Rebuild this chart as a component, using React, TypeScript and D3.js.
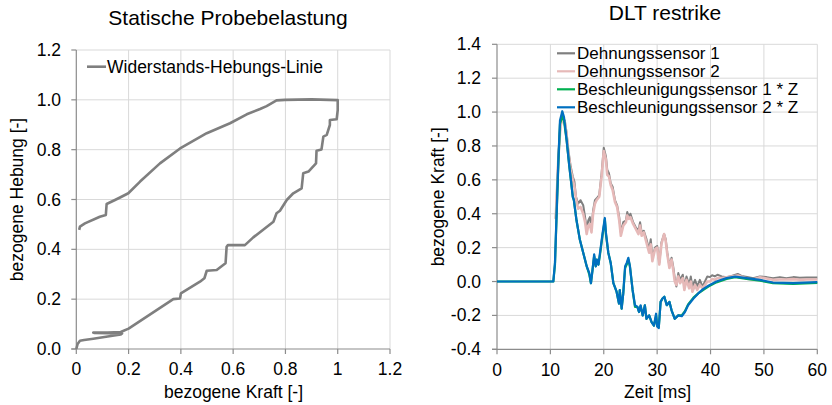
import React from "react";
import * as d3 from "d3";

// Statische Probebelastung: Widerstands-Hebungs-Linie
const kraft = [
  0, 0.005, 0.014, 0.03, 0.065, 0.12, 0.17, 0.175, 0.07, 0.065,
  0.12, 0.17, 0.2, 0.371, 0.397, 0.4, 0.473, 0.49, 0.499, 0.537,
  0.562, 0.571, 0.575, 0.58, 0.645, 0.677, 0.754, 0.766, 0.779, 0.805,
  0.83, 0.862, 0.868, 0.888, 0.917, 0.919, 0.938, 0.945, 0.958, 0.97,
  0.97, 0.996, 1.0, 1.0, 0.9, 0.798, 0.766, 0.728, 0.703, 0.652,
  0.588, 0.499, 0.397, 0.32, 0.244, 0.199, 0.173, 0.148, 0.122, 0.116,
  0.113, 0.09, 0.033, 0.014, 0.011,
];
const hebung = [
  0, 0.02, 0.033, 0.036, 0.041, 0.05, 0.058, 0.062, 0.064, 0.066,
  0.066, 0.068, 0.082, 0.2, 0.203, 0.223, 0.27, 0.284, 0.314, 0.317,
  0.337, 0.344, 0.41, 0.417, 0.417, 0.448, 0.511, 0.545, 0.555, 0.598,
  0.625, 0.645, 0.705, 0.712, 0.745, 0.796, 0.801, 0.852, 0.859, 0.899,
  0.919, 0.922, 0.959, 0.999, 1.002, 1.0, 0.998, 0.975, 0.963, 0.942,
  0.906, 0.866, 0.805, 0.745, 0.672, 0.625, 0.611, 0.598, 0.585, 0.582,
  0.538, 0.531, 0.504, 0.491, 0.478,
];

// DLT restrike: Dehnungssensoren
const zeitDehnung = [
  11.0, 11.5, 11.9, 12.3, 12.7, 13.05, 13.35, 13.8, 14.2, 14.5,
  14.8, 15.2, 15.65, 16.15, 16.5, 16.8, 17.1, 17.4, 17.7, 18.0,
  18.35, 18.65, 19.15, 19.6, 20.0, 20.4, 20.65, 20.97, 21.3, 21.66,
  22.1, 22.5, 22.9, 23.2, 23.65, 24.15, 24.4, 24.7, 25.0, 25.5,
  26.0, 26.5, 26.8, 27.1, 27.5, 28.0, 28.5, 28.8, 29.1, 29.6,
  30.0, 30.4, 30.8, 31.3, 31.6, 31.9, 32.3, 32.7, 33.0, 33.3,
  33.6, 33.96, 34.3, 34.8, 35.1, 35.5, 36.0, 36.3, 36.6, 37.1,
  37.5, 38.0, 38.5, 38.95, 39.4, 39.9, 40.3, 40.8, 41.3, 42.1,
  43.0, 43.95, 45.1, 45.8, 47.1, 48.0, 49.25, 50.5, 51.7, 53.0,
  54.2, 55.5, 56.7, 58.0, 60,
];
const dehnung1 = [
  0.37, 0.74, 0.93, 0.97, 0.95, 0.875, 0.78, 0.68, 0.62, 0.59,
  0.5, 0.46, 0.48, 0.45, 0.38, 0.31, 0.36, 0.38, 0.31, 0.42,
  0.48, 0.49, 0.51, 0.64, 0.79, 0.74, 0.66, 0.64, 0.58, 0.56,
  0.48, 0.45, 0.38, 0.29, 0.35, 0.36, 0.41, 0.38, 0.4, 0.35,
  0.32, 0.3, 0.35, 0.29, 0.3, 0.25, 0.19, 0.25, 0.14, 0.2,
  0.21, 0.11, 0.23, 0.28, 0.25, 0.17, 0.09, 0.14, 0.09, 0.02,
  -0.03, 0.05, 0.01, 0.04, -0.03, 0.03, -0.02, 0.03, -0.03, 0.01,
  -0.03, 0.01, -0.03, 0.0, 0.03, 0.026, 0.037, 0.03, 0.04, 0.03,
  0.026, 0.033, 0.045, 0.033, 0.026, 0.02, 0.03, 0.026, 0.02, 0.026,
  0.02, 0.026, 0.022, 0.024, 0.024,
];
const dehnung2 = [
  0.37, 0.73, 0.92, 0.96, 0.94, 0.86, 0.76, 0.66, 0.6, 0.56,
  0.49, 0.43, 0.44, 0.4, 0.35, 0.28, 0.33, 0.34, 0.29, 0.4,
  0.46, 0.48, 0.5, 0.62, 0.77, 0.72, 0.63, 0.62, 0.57, 0.54,
  0.47, 0.44, 0.36, 0.27, 0.33, 0.35, 0.39, 0.37, 0.38, 0.34,
  0.31, 0.28, 0.33, 0.27, 0.29, 0.23, 0.17, 0.22, 0.12, 0.19,
  0.2, 0.1, 0.22, 0.28, 0.24, 0.16, 0.08, 0.13, 0.07, 0.0,
  -0.02, 0.03, -0.01, 0.02, -0.05, 0.01, -0.04, 0.0, -0.06, -0.02,
  -0.05, -0.02, -0.04, -0.02, 0.0, 0.0, 0.015, 0.01, 0.02, 0.02,
  0.025, 0.03, 0.035, 0.028, 0.015, 0.012, 0.025, 0.018, 0.01, 0.012,
  0.012, 0.014, 0.01, 0.012, 0.012,
];

// DLT restrike: Beschleunigungssensoren
const zeitBeschl = [
  0, 10.55, 10.86, 11.5, 11.8, 12.23, 12.55, 13.05, 13.55, 14.2,
  14.4, 14.9, 15.5, 16.15, 16.8, 17.3, 17.6, 17.9, 18.2, 18.5,
  18.7, 19.0, 19.3, 19.8, 20.2, 20.4, 20.85, 21.3, 21.8, 22.4,
  22.85, 23.0, 23.35, 23.65, 24.0, 24.3, 24.6, 24.9, 25.4, 25.85,
  26.3, 26.6, 26.9, 27.3, 27.7, 28.0, 28.5, 28.96, 29.4, 29.8,
  30.0, 30.3, 30.65, 31.0, 31.35, 31.8, 32.3, 32.7, 33.3, 33.96,
  34.6, 35.2, 35.8, 36.8, 37.7, 38.6, 39.6, 41.1, 43.0, 44.6,
  46.75, 49.25, 51.7, 55.5, 60,
];
const beschl1 = [
  0, 0, 0.1, 0.7, 0.93, 0.975, 0.95, 0.83, 0.68, 0.5,
  0.48, 0.36, 0.25, 0.17, 0.09, 0.04, -0.01, 0.07, 0.15, 0.09,
  0.13, 0.1, 0.16, 0.28, 0.365, 0.28, 0.17, 0.11, -0.01, -0.06,
  -0.13, -0.05, -0.16, -0.07, 0.08, 0.1, 0.13, 0.09, -0.05, -0.15,
  -0.15, -0.18, -0.145, -0.2, -0.14, -0.22, -0.2, -0.24, -0.26, -0.2,
  -0.26, -0.27, -0.12, -0.1, -0.09, -0.14, -0.12, -0.17, -0.22, -0.2,
  -0.2, -0.175, -0.135, -0.095, -0.07, -0.05, -0.03, -0.005, 0.015, 0.025,
  0.015, 0.005, -0.01, -0.014, -0.008,
];
const beschl2 = [
  0, 0, 0.11, 0.72, 0.95, 1.005, 0.97, 0.835, 0.68, 0.5,
  0.48, 0.36, 0.25, 0.17, 0.09, 0.05, -0.01, 0.07, 0.16, 0.09,
  0.13, 0.1, 0.17, 0.29, 0.375, 0.29, 0.17, 0.11, -0.01, -0.06,
  -0.13, -0.05, -0.16, -0.07, 0.09, 0.11, 0.14, 0.09, -0.05, -0.14,
  -0.15, -0.18, -0.14, -0.2, -0.14, -0.22, -0.2, -0.24, -0.26, -0.19,
  -0.265, -0.275, -0.12, -0.1, -0.09, -0.14, -0.12, -0.17, -0.22, -0.2,
  -0.205, -0.18, -0.14, -0.1, -0.07, -0.045, -0.025, 0, 0.02, 0.029,
  0.02, 0.01, -0.006, -0.01, -0.004,
];

const serien = [
  { name: "Dehnungssensor 1", color: "#7f7f7f", width: 2, t: zeitDehnung, v: dehnung1 },
  { name: "Dehnungssensor 2", color: "#e6b9b8", width: 2.6, t: zeitDehnung, v: dehnung2 },
  { name: "Beschleunigungssensor 1 * Z", color: "#00b050", width: 2.2, t: zeitBeschl, v: beschl1 },
  { name: "Beschleunigungssensor 2 * Z", color: "#0070c0", width: 2.2, t: zeitBeschl, v: beschl2 },
];

const FONT = "'Liberation Sans', Arial, sans-serif";
const GRID = "#d9d9d9";
const AXIS = "#8c8c8c";

export default function App() {
  // linkes Diagramm
  const xL = d3.scaleLinear().domain([0, 1.2]).range([76.3, 390]);
  const yL = d3.scaleLinear().domain([0, 1.2]).range([349, 50]);
  const xTicksL = d3.range(0, 7).map((i) => i * 0.2);
  const yTicksL = d3.range(0, 7).map((i) => i * 0.2);

  // rechtes Diagramm
  const xR = d3.scaleLinear().domain([0, 60]).range([497, 817.3]);
  const yR = d3.scaleLinear().domain([-0.4, 1.4]).range([349.3, 44.3]);
  const xTicksR = d3.range(0, 61, 10);
  const yTicksR = d3.range(0, 10).map((i) => -0.4 + i * 0.2);

  const lineL = d3
    .line<number>()
    .x((_, i) => xL(kraft[i]))
    .y((_, i) => yL(hebung[i]));

  const fmtL = (d: number) => String(+d.toFixed(1));

  return (
    <svg
      width={832}
      height={405}
      style={{ position: "absolute", left: 0, top: 0, background: "#fff" }}
      fontFamily={FONT}
    >
      {/* Statische Probebelastung */}
      <text x={228} y={25} fontSize={21} textAnchor="middle" fill="#000">
        Statische Probebelastung
      </text>
      <g>
        {xTicksL.slice(1).map((d) => (
          <line key={"gx" + d} x1={xL(d)} x2={xL(d)} y1={yL(0)} y2={yL(1.2)} stroke={GRID} strokeWidth={1} />
        ))}
        {yTicksL.slice(1).map((d) => (
          <line key={"gy" + d} x1={xL(0)} x2={xL(1.2)} y1={yL(d)} y2={yL(d)} stroke={GRID} strokeWidth={1} />
        ))}
        <line x1={xL(0)} x2={xL(0)} y1={yL(0)} y2={yL(1.2)} stroke={AXIS} strokeWidth={1.2} />
        <line x1={xL(0) - 5} x2={xL(1.2)} y1={yL(0)} y2={yL(0)} stroke={AXIS} strokeWidth={1.2} />
        {yTicksL.map((d) => (
          <g key={"ty" + d}>
            <line x1={xL(0) - 5} x2={xL(0)} y1={yL(d)} y2={yL(d)} stroke={AXIS} strokeWidth={1.2} />
            <text x={61} y={yL(d) + 6} fontSize={17.5} textAnchor="end" fill="#000">
              {d.toFixed(1)}
            </text>
          </g>
        ))}
        {xTicksL.map((d) => (
          <g key={"tx" + d}>
            <line x1={xL(d)} x2={xL(d)} y1={yL(0)} y2={yL(0) + 5} stroke={AXIS} strokeWidth={1.2} />
            <text x={xL(d)} y={375} fontSize={17.5} textAnchor="middle" fill="#000">
              {fmtL(d)}
            </text>
          </g>
        ))}
        <text x={233.5} y={398} fontSize={17.5} textAnchor="middle" fill="#000">
          bezogene Kraft [-]
        </text>
        <text
          transform={`translate(23, ${yL(0.6)}) rotate(-90)`}
          fontSize={17.5}
          textAnchor="middle"
          fill="#000"
        >
          bezogene Hebung [-]
        </text>
        <path d={lineL(kraft) || ""} fill="none" stroke="#7f7f7f" strokeWidth={2.6} strokeLinejoin="round" />
        <line x1={87} x2={106} y1={66.7} y2={66.7} stroke="#7f7f7f" strokeWidth={2.6} />
        <text x={107} y={73} fontSize={17.5} fill="#000">
          Widerstands-Hebungs-Linie
        </text>
      </g>

      {/* DLT restrike */}
      <text x={665} y={20} fontSize={21} textAnchor="middle" fill="#000">
        DLT restrike
      </text>
      <g>
        {xTicksR.slice(1).map((d) => (
          <line key={"rgx" + d} x1={xR(d)} x2={xR(d)} y1={yR(-0.4)} y2={yR(1.4)} stroke={GRID} strokeWidth={1} />
        ))}
        {yTicksR.slice(1).map((d) => (
          <line key={"rgy" + d} x1={xR(0)} x2={xR(60)} y1={yR(d)} y2={yR(d)} stroke={GRID} strokeWidth={1} />
        ))}
        <line x1={xR(0)} x2={xR(0)} y1={yR(-0.4)} y2={yR(1.4)} stroke={AXIS} strokeWidth={1.2} />
        <line x1={xR(0) - 5} x2={xR(60)} y1={yR(-0.4)} y2={yR(-0.4)} stroke={AXIS} strokeWidth={1.2} />
        {yTicksR.map((d) => (
          <g key={"rty" + d}>
            <line x1={xR(0) - 5} x2={xR(0)} y1={yR(d)} y2={yR(d)} stroke={AXIS} strokeWidth={1.2} />
            <text x={481} y={yR(d) + 6} fontSize={17.5} textAnchor="end" fill="#000">
              {(Math.abs(d) < 1e-9 ? 0 : d).toFixed(1)}
            </text>
          </g>
        ))}
        {xTicksR.map((d) => (
          <g key={"rtx" + d}>
            <line x1={xR(d)} x2={xR(d)} y1={yR(-0.4)} y2={yR(-0.4) + 5} stroke={AXIS} strokeWidth={1.2} />
            <text x={xR(d)} y={376} fontSize={17.5} textAnchor="middle" fill="#000">
              {d}
            </text>
          </g>
        ))}
        <text x={657.5} y={398} fontSize={17.5} textAnchor="middle" fill="#000">
          Zeit [ms]
        </text>
        <text
          transform={`translate(444, ${yR(0.5)}) rotate(-90)`}
          fontSize={17.5}
          textAnchor="middle"
          fill="#000"
        >
          bezogene Kraft [-]
        </text>
        {serien.map((s) => {
          const line = d3
            .line<number>()
            .x((_, i) => xR(s.t[i]))
            .y((_, i) => yR(s.v[i]));
          return (
            <path
              key={s.name}
              d={line(s.v) || ""}
              fill="none"
              stroke={s.color}
              strokeWidth={s.width}
              strokeLinejoin="round"
            />
          );
        })}
        {serien.map((s, i) => (
          <g key={"leg" + s.name} transform={`translate(0, ${53.3 + i * 18})`}>
            <line x1={557} x2={575} y1={0} y2={0} stroke={s.color} strokeWidth={2.2} />
            <text x={577} y={6} fontSize={17} fill="#000">
              {s.name}
            </text>
          </g>
        ))}
      </g>
    </svg>
  );
}
